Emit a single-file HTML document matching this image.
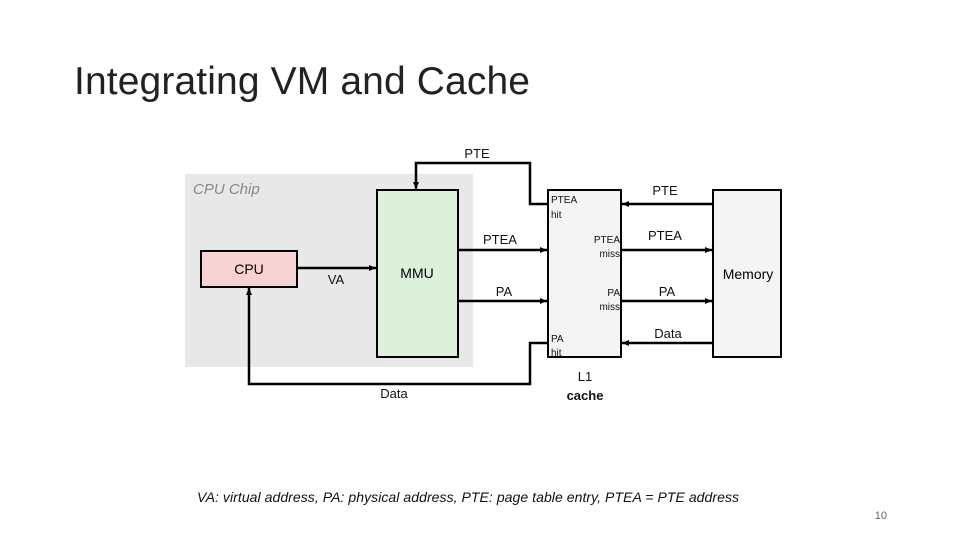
<!DOCTYPE html>
<html><head><style>
body{margin:0;width:960px;height:540px;background:#fff;overflow:hidden;font-family:"Liberation Sans",sans-serif}
</style></head><body>
<svg width="960" height="540" xmlns="http://www.w3.org/2000/svg" font-family="Liberation Sans, sans-serif">
<defs><marker id="a" markerUnits="userSpaceOnUse" markerWidth="8" markerHeight="8" refX="7" refY="4" orient="auto"><path d="M0,1 L7,4 L0,7z" fill="#000"/></marker></defs>
<text x="74" y="94" font-size="39" fill="#222" textLength="456">Integrating VM and Cache</text>
<rect x="185" y="174" width="288" height="193" fill="#e8e8e8"/>
<text x="193" y="194" font-size="15" font-style="italic" fill="#888">CPU Chip</text>
<rect x="201" y="251" width="96" height="36" fill="#f6d2d2" stroke="#000" stroke-width="2"/>
<text x="249" y="274" font-size="14" text-anchor="middle">CPU</text>
<rect x="377" y="190" width="81" height="167" fill="#dcf0da" stroke="#000" stroke-width="2"/>
<text x="417" y="278" font-size="14" text-anchor="middle">MMU</text>
<rect x="548" y="190" width="73" height="167" fill="#f4f4f4" stroke="#000" stroke-width="2"/>
<rect x="713" y="190" width="68" height="167" fill="#f4f4f4" stroke="#000" stroke-width="2"/>
<text x="748" y="279" font-size="14" text-anchor="middle">Memory</text>
<g stroke="#000" stroke-width="2.5" fill="none">
<path d="M548,204 H530 V163 H416 V189" marker-end="url(#a)"/>
<path d="M458,250 H547" marker-end="url(#a)"/>
<path d="M458,301 H547" marker-end="url(#a)"/>
<path d="M297,268 H376" marker-end="url(#a)"/>
<path d="M548,343 H530 V384 H249 V288" marker-end="url(#a)"/>
<path d="M713,204 H622" marker-end="url(#a)"/>
<path d="M621,250 H712" marker-end="url(#a)"/>
<path d="M621,301 H712" marker-end="url(#a)"/>
<path d="M713,343 H622" marker-end="url(#a)"/>
</g>
<g font-size="13" fill="#111">
<text x="477" y="158" text-anchor="middle">PTE</text>
<text x="336" y="284" text-anchor="middle">VA</text>
<text x="500" y="244" text-anchor="middle">PTEA</text>
<text x="504" y="296" text-anchor="middle">PA</text>
<text x="394" y="398" text-anchor="middle">Data</text>
<text x="665" y="195" text-anchor="middle">PTE</text>
<text x="665" y="240" text-anchor="middle">PTEA</text>
<text x="667" y="296" text-anchor="middle">PA</text>
<text x="668" y="338" text-anchor="middle">Data</text>
<text x="585" y="381" text-anchor="middle">L1</text>
<text x="585" y="400" text-anchor="middle" font-weight="bold">cache</text>
</g>
<g font-size="10" fill="#111">
<text x="551" y="203">PTEA</text><text x="551" y="218">hit</text>
<text x="620" y="243" text-anchor="end">PTEA</text><text x="620" y="257" text-anchor="end">miss</text>
<text x="620" y="296" text-anchor="end">PA</text><text x="620" y="310" text-anchor="end">miss</text>
<text x="551" y="342">PA</text><text x="551" y="356">hit</text>
</g>
<text x="197" y="502" font-size="14" font-style="italic" fill="#111" textLength="542">VA: virtual address, PA: physical address, PTE: page table entry, PTEA = PTE address</text>
<text x="887" y="519" font-size="11" fill="#666" text-anchor="end">10</text>
</svg>
</body></html>
